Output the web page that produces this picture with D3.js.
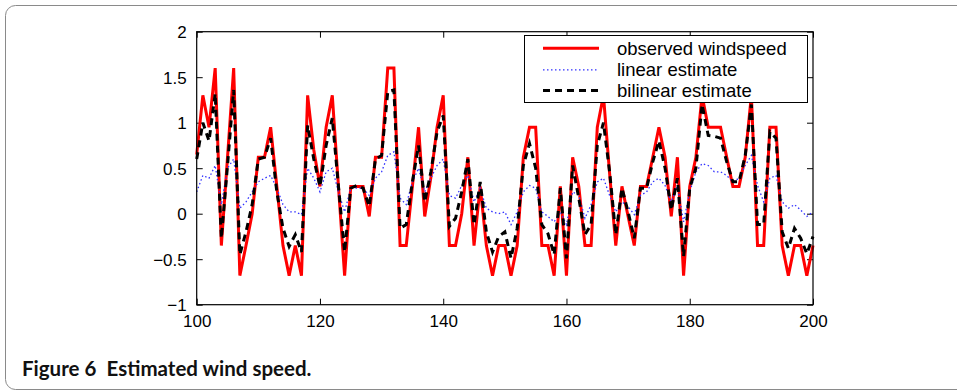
<!DOCTYPE html>
<html><head><meta charset="utf-8">
<script src="https://cdn.jsdelivr.net/npm/d3@7"></script>
<style>
html,body{margin:0;padding:0;background:#fff;}
svg{display:block;}
</style></head>
<body>
<svg id="c" width="957" height="392"></svg>
<script>
const xStart = 100;
const observed = [
 0.65,1.3,0.95,1.6,-0.35,0.62,1.6,-0.68,-0.35,0.0,
 0.62,0.62,0.95,0.3,-0.35,-0.68,-0.35,-0.68,1.3,0.7,
 0.3,0.95,1.3,0.3,-0.68,0.3,0.3,0.3,-0.03,0.62,
 0.62,1.6,1.6,-0.35,-0.35,0.3,0.95,-0.03,0.4,0.95,
 1.3,-0.35,-0.35,0.0,0.62,-0.35,0.3,-0.35,-0.68,-0.35,
 -0.35,-0.68,-0.35,0.62,0.95,0.95,-0.35,-0.35,-0.68,0.3,
 -0.68,0.62,0.3,-0.35,-0.35,0.95,1.3,0.44,-0.35,0.3,
 -0.03,-0.35,0.3,0.3,0.62,0.95,0.62,-0.03,0.62,-0.68,
 0.3,0.62,1.3,0.95,0.95,0.95,0.62,0.3,0.3,0.62,
 1.3,-0.35,-0.35,0.95,0.95,-0.35,-0.68,-0.35,-0.35,-0.68,
 -0.35];
const linearEst = [
 0.24,0.42,0.39,0.53,0.1,0.5,0.6,0.06,0.13,0.24,
 0.35,0.39,0.42,0.28,0.1,0.02,0.02,-0.01,0.5,0.39,
 0.24,0.46,0.5,0.24,0.02,0.28,0.28,0.28,0.2,0.39,
 0.46,0.64,0.68,0.17,0.1,0.35,0.5,0.24,0.39,0.53,
 0.6,0.2,0.17,0.31,0.42,0.13,0.28,0.06,0.02,0.0,
 0.02,-0.12,0.02,0.24,0.31,0.28,0.02,-0.03,-0.09,0.02,
 -0.12,0.24,0.2,-0.05,0.1,0.35,0.39,0.2,0.02,0.13,
 0.08,-0.01,0.2,0.24,0.35,0.39,0.31,0.13,0.31,-0.09,
 0.24,0.46,0.55,0.53,0.46,0.46,0.42,0.35,0.39,0.53,
 0.64,0.31,0.13,0.39,0.42,0.13,0.06,0.1,0.04,-0.03,
 0.02];
const bilinearEst = [
 0.6,1.0,0.8,1.32,-0.27,0.53,1.36,-0.45,-0.2,0.1,
 0.6,0.62,0.83,0.24,-0.16,-0.36,-0.23,-0.42,0.97,0.6,
 0.3,0.75,1.05,0.3,-0.42,0.28,0.31,0.28,0.08,0.6,
 0.64,1.34,1.36,-0.16,-0.12,0.35,0.75,0.13,0.46,0.9,
 1.08,-0.14,-0.05,0.24,0.6,-0.12,0.35,-0.2,-0.42,-0.25,
 -0.2,-0.49,-0.16,0.53,0.77,0.5,-0.12,-0.22,-0.45,0.28,
 -0.49,0.53,0.17,-0.23,-0.12,0.75,1.0,0.46,-0.23,0.28,
 0.02,-0.27,0.28,0.28,0.57,0.8,0.5,0.04,0.39,-0.47,
 0.28,0.5,1.2,0.86,0.85,0.83,0.57,0.35,0.35,0.64,
 1.2,-0.12,-0.12,0.9,0.83,-0.2,-0.38,-0.16,-0.27,-0.44,
 -0.25];
const xTicks = [100,120,140,160,180,200];
const yTicks = [-1,-0.5,0,0.5,1,1.5,2];
const seriesNames = ["observed windspeed","linear estimate","bilinear estimate"];
const caption = "Figure 6\u2002Estimated wind speed.";

const svg = d3.select("#c");
const L = 196.7, R = 813, T = 31.7, B = 304.7;
const x = d3.scaleLinear().domain([100,200]).range([L,R]);
const y = d3.scaleLinear().domain([-1,2]).range([B,T]);

// outer frame
svg.append("rect").attr("x",5.5).attr("y",5.5).attr("width",1000).attr("height",384)
  .attr("rx",10).attr("fill","none").attr("stroke","#8a8a8a").attr("stroke-width",1);

const fmt = d => (d<0 ? "\u2212" : "") + Math.abs(d);
const tickFont = "'Liberation Sans', Arial, sans-serif";

// axes
const gb = svg.append("g").attr("transform",`translate(0,${B})`)
  .call(d3.axisBottom(x).tickValues(xTicks).tickSizeInner(-6).tickSizeOuter(0).tickPadding(10).tickFormat(d=>d));
const gt = svg.append("g").attr("transform",`translate(0,${T})`)
  .call(d3.axisTop(x).tickValues(xTicks).tickSizeInner(-6).tickSizeOuter(0).tickFormat(""));
const gl = svg.append("g").attr("transform",`translate(${L},0)`)
  .call(d3.axisLeft(y).tickValues(yTicks).tickSizeInner(-6).tickSizeOuter(0).tickPadding(10).tickFormat(fmt));
const gr = svg.append("g").attr("transform",`translate(${R},0)`)
  .call(d3.axisRight(y).tickValues(yTicks).tickSizeInner(-6).tickSizeOuter(0).tickFormat(""));
[gb,gt,gl,gr].forEach(g=>{
  g.select(".domain").remove();
  g.selectAll("line").attr("stroke","#000").attr("stroke-width",1);
  g.selectAll("text").attr("font-family",tickFont).attr("font-size",17).attr("fill","#000");
});
gb.selectAll("text").attr("dy","0.72em");
gl.selectAll("text").attr("dy","0.36em");

const idx = observed.map((_,i)=>i);
const line = arr => d3.line().x(i=>x(xStart+i)).y(i=>y(arr[i]))(idx);

const plot = svg.append("g");
plot.append("path").attr("d",line(observed)).attr("fill","none")
  .attr("stroke","#ff0000").attr("stroke-width",3).attr("stroke-linejoin","miter");
plot.append("path").attr("d",line(linearEst)).attr("fill","none")
  .attr("stroke","#3030ff").attr("stroke-width",1.3).attr("stroke-dasharray","1.5,2.5");
plot.append("path").attr("d",line(bilinearEst)).attr("fill","none")
  .attr("stroke","#000").attr("stroke-width",3).attr("stroke-dasharray","7,5");

// box
svg.append("rect").attr("x",L).attr("y",T).attr("width",R-L).attr("height",B-T)
  .attr("fill","none").attr("stroke","#000").attr("stroke-width",1.2);

// legend
const lg = svg.append("g");
lg.append("rect").attr("x",524.5).attr("y",35.5).attr("width",283).attr("height",67)
  .attr("fill","#fff").attr("stroke","#000").attr("stroke-width",1);
const styles = [
  {stroke:"#ff0000",w:3,dash:null},
  {stroke:"#3030ff",w:1.3,dash:"1.5,2.5"},
  {stroke:"#000",w:3,dash:"7,5"}];
const rowY = [48.3,69.8,90.5];
seriesNames.forEach((n,i)=>{
  const l = lg.append("line").attr("x1",543).attr("x2",599).attr("y1",rowY[i]).attr("y2",rowY[i])
    .attr("stroke",styles[i].stroke).attr("stroke-width",styles[i].w);
  if(styles[i].dash) l.attr("stroke-dasharray",styles[i].dash);
  lg.append("text").attr("x",617).attr("y",rowY[i]).attr("dy","0.36em")
    .attr("font-family",tickFont).attr("font-size",18.5).attr("fill","#000").text(n);
});

svg.append("text").attr("x",22).attr("y",376).attr("font-family","Lato, 'Open Sans', sans-serif")
  .attr("font-weight","bold").attr("font-size",20.5).attr("fill","#111").text(caption);
</script>
</body></html>
